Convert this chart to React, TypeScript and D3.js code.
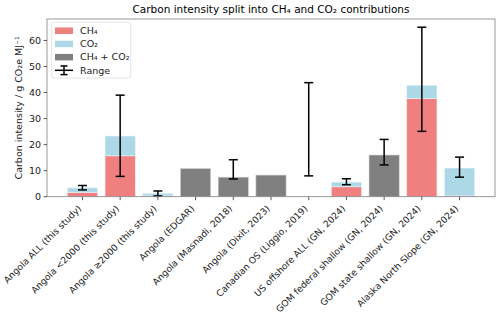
import React from "react";
import * as d3 from "d3";

const categories = [
  "Angola ALL (this study)",
  "Angola <2000 (this study)",
  "Angola ≥2000 (this study)",
  "Angola (EDGAR)",
  "Angola (Masnadi, 2018)",
  "Angola (Dixit, 2023)",
  "Canadian OS (Liggio, 2019)",
  "US offshore ALL (GN, 2024)",
  "GOM federal shallow (GN, 2024)",
  "GOM state shallow (GN, 2024)",
  "Alaska North Slope (GN, 2024)",
];
// null = not available
const ch4 = [1.7, 15.7, 0.3, null, null, null, null, 3.8, null, 37.7, 0.3];
const co2 = [1.7, 7.6, 1.0, null, null, null, null, 1.8, null, 5.1, 10.7];
const combined = [null, null, null, 10.8, 7.5, 8.3, null, null, 16.0, null, null];
const rangeLow = [2.6, 7.8, 0.3, null, 6.8, null, 8.0, 4.6, 12.2, 25.1, 7.5];
const rangeHigh = [4.3, 39.0, 2.2, null, 14.2, null, 43.8, 6.9, 22.0, 65.1, 15.2];
const yTicks = [0, 10, 20, 30, 40, 50, 60];

const W = 500;
const H = 316;
const m = { left: 47, right: 495, top: 19, bottom: 196.7 };
const font = "DejaVu Sans, sans-serif";
const RED = "#f08080";
const BLUE = "#add8e6";
const GRAY = "#808080";

export default function App() {
  const n = categories.length;
  const x = d3.scaleLinear().domain([-0.94, n - 1 + 0.94]).range([m.left, m.right]);
  const y = d3.scaleLinear().domain([0, 68.25]).range([m.bottom, m.top]);
  const bw = x(0.8) - x(0);

  const bars: JSX.Element[] = [];
  categories.forEach((_, i) => {
    const cx = x(i);
    const c = ch4[i];
    const o = co2[i];
    const g = combined[i];
    if (c != null) {
      bars.push(
        <rect key={`r${i}`} x={cx - bw / 2} y={y(c)} width={bw} height={y(0) - y(c)} fill={RED} stroke="#fbe3e3" strokeWidth={0.6} />
      );
    }
    if (o != null) {
      const base = c ?? 0;
      bars.push(
        <rect key={`b${i}`} x={cx - bw / 2} y={y(base + o)} width={bw} height={y(base) - y(base + o)} fill={BLUE} stroke="#e6f4f8" strokeWidth={0.6} />
      );
    }
    if (g != null) {
      bars.push(
        <rect key={`g${i}`} x={cx - bw / 2} y={y(g)} width={bw} height={y(0) - y(g)} fill={GRAY} stroke="#d0d0d0" strokeWidth={0.6} />
      );
    }
  });

  const errs: JSX.Element[] = [];
  categories.forEach((_, i) => {
    const lo = rangeLow[i];
    const hi = rangeHigh[i];
    if (lo == null || hi == null) return;
    const cx = x(i);
    errs.push(
      <g key={`e${i}`} stroke="#000" strokeWidth={1.5}>
        <line x1={cx} x2={cx} y1={y(lo)} y2={y(hi)} />
        <line x1={cx - 4.5} x2={cx + 4.5} y1={y(lo)} y2={y(lo)} />
        <line x1={cx - 4.5} x2={cx + 4.5} y1={y(hi)} y2={y(hi)} />
      </g>
    );
  });

  const legend = [
    { label: "CH₄", color: RED },
    { label: "CO₂", color: BLUE },
    { label: "CH₄ + CO₂", color: GRAY },
  ];

  return (
    <svg width={W} height={H} style={{ position: "absolute", left: 0, top: 0 }} fontFamily={font}>
      <rect width={W} height={H} fill="#fff" />
      <text x={(m.left + m.right) / 2} y={13} textAnchor="middle" fontSize={10.5} fill="#000">
        Carbon intensity split into CH₄ and CO₂ contributions
      </text>
      {bars}
      {errs}
      {/* axes frame */}
      <rect x={m.left} y={m.top} width={m.right - m.left} height={m.bottom - m.top} fill="none" stroke="#808080" strokeWidth={0.8} />
      {yTicks.map((t) => (
        <g key={t}>
          <line x1={m.left - 3.5} x2={m.left} y1={y(t)} y2={y(t)} stroke="#333" strokeWidth={0.8} />
          <text x={m.left - 6} y={y(t)} dy="0.35em" textAnchor="end" fontSize={9.5} fill="#222">
            {t}
          </text>
        </g>
      ))}
      {categories.map((c, i) => (
        <g key={c}>
          <line x1={x(i)} x2={x(i)} y1={m.bottom} y2={m.bottom + 3.5} stroke="#333" strokeWidth={0.8} />
          <text
            transform={`translate(${x(i) - 0.5},${m.bottom + 12.5})rotate(-45)`}
            textAnchor="end"
            fontSize={9.1}
            fill="#222"
          >
            {c}
          </text>
        </g>
      ))}
      <text
        transform={`translate(22,${(m.top + m.bottom) / 2}) rotate(-90)`}
        textAnchor="middle"
        fontSize={9.5}
        fill="#222"
      >
        Carbon intensity / g CO₂e MJ⁻¹
      </text>
      {/* legend */}
      <g>
        <rect x={51.7} y={22.3} width={79} height={55.7} rx={2} fill="#fff" fillOpacity={0.8} stroke="#ddd" strokeWidth={0.8} />
        {legend.map((d, i) => (
          <g key={d.label}>
            <rect x={55} y={27.5 + i * 13.2} width={18} height={6.5} fill={d.color} />
            <text x={80} y={30.7 + i * 13.2} dy="0.35em" fontSize={9.5} fill="#222">
              {d.label}
            </text>
          </g>
        ))}
        <g stroke="#000" strokeWidth={1.5}>
          <line x1={55} x2={73} y1={70.3} y2={70.3} />
          <line x1={64} x2={64} y1={66} y2={74.6} />
          <line x1={60.5} x2={67.5} y1={66} y2={66} />
          <line x1={60.5} x2={67.5} y1={74.6} y2={74.6} />
        </g>
        <text x={80} y={70.3} dy="0.35em" fontSize={9.5} fill="#222">
          Range
        </text>
      </g>
    </svg>
  );
}
